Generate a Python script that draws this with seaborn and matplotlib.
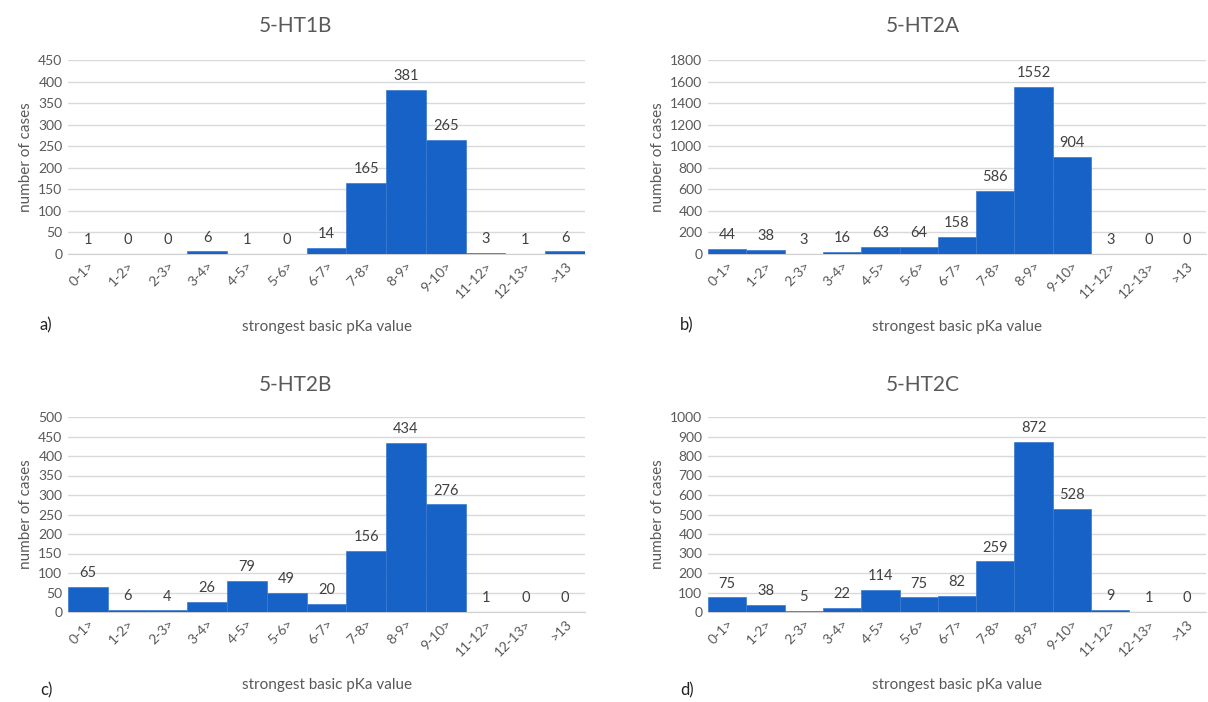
import matplotlib
matplotlib.use("Agg")
import matplotlib.pyplot as plt
import seaborn as sns
import pandas as pd
import numpy as np

categories = ["0-1>", "1-2>", "2-3>", "3-4>", "4-5>", "5-6>", "6-7>", "7-8>",
              "8-9>", "9-10>", "11-12>", "12-13>", ">13"]
ht1b = [1, 0, 0, 6, 1, 0, 14, 165, 381, 265, 3, 1, 6]
ht2a = [44, 38, 3, 16, 63, 64, 158, 586, 1552, 904, 3, 0, 0]
ht2b = [65, 6, 4, 26, 79, 49, 20, 156, 434, 276, 1, 0, 0]
ht2c = [75, 38, 5, 22, 114, 75, 82, 259, 872, 528, 9, 1, 0]
titles = ["5-HT1B", "5-HT2A", "5-HT2B", "5-HT2C"]
letters = ["a)", "b)", "c)", "d)"]
ymax = [450, 1800, 500, 1000]
ystep = [50, 200, 50, 100]

sns.set_style("white")
plt.rcParams['font.family'] = ['Lato', 'DejaVu Sans']

W, H = 1208, 702
fig = plt.figure(figsize=(W / 100, H / 100), dpi=100)

def px_axes(x0, x1, ytop, ybot):
    return fig.add_axes([x0 / W, 1 - ybot / H, (x1 - x0) / W, (ybot - ytop) / H])

boxes = [(68, 585, 60, 254), (708, 1206, 60, 254),
         (68, 585, 417, 612), (708, 1206, 417, 612)]
title_pos = [(295, 26), (923, 26), (295, 385), (923, 385)]
series = [ht1b, ht2a, ht2b, ht2c]
blue = "#1762C6"
grey_txt = "#595959"

for i, (vals, box) in enumerate(zip(series, boxes)):
    ax = px_axes(*box)
    df = pd.DataFrame({"cat": categories, "n": vals})
    sns.barplot(data=df, x="cat", y="n", ax=ax, color=blue, width=1.0,
                saturation=1, edgecolor="#3a78cf", linewidth=0.5, zorder=3)
    ax.set_xlim(-0.5, len(categories) - 0.5)
    ax.set_ylim(0, ymax[i])
    ax.set_yticks(np.arange(0, ymax[i] + 1, ystep[i]))
    ax.yaxis.grid(True, color="#d9d9d9", linewidth=1, zorder=0)
    ax.set_axisbelow(True)
    for s in ["top", "right", "left"]:
        ax.spines[s].set_visible(False)
    ax.spines["bottom"].set_color("#d0d0d0")
    ax.tick_params(axis="both", length=0, labelsize=10, colors=grey_txt, pad=4)
    plt.setp(ax.get_xticklabels(), rotation=45, ha="right", rotation_mode="anchor")
    ax.set_xlabel("strongest basic pKa value", fontsize=11, color=grey_txt, labelpad=14)
    ax.set_ylabel("number of cases", fontsize=11, color=grey_txt, labelpad=4)
    tx, ty = title_pos[i]
    fig.text(tx / W, 1 - ty / H, titles[i], fontsize=15, color=grey_txt,
             ha="center", va="center")
    off = ymax[i] * 0.035
    for j, v in enumerate(vals):
        ax.text(j, v + off, str(v), ha="center", va="bottom", fontsize=10.5, color="#404040")
    lx = 40 if i % 2 == 0 else 680
    ly = 325 if i < 2 else 690
    fig.text(lx / W, 1 - ly / H, letters[i], fontsize=12, color="#222222", va="center", ha="left")

fig.savefig("out.png", dpi=100)
